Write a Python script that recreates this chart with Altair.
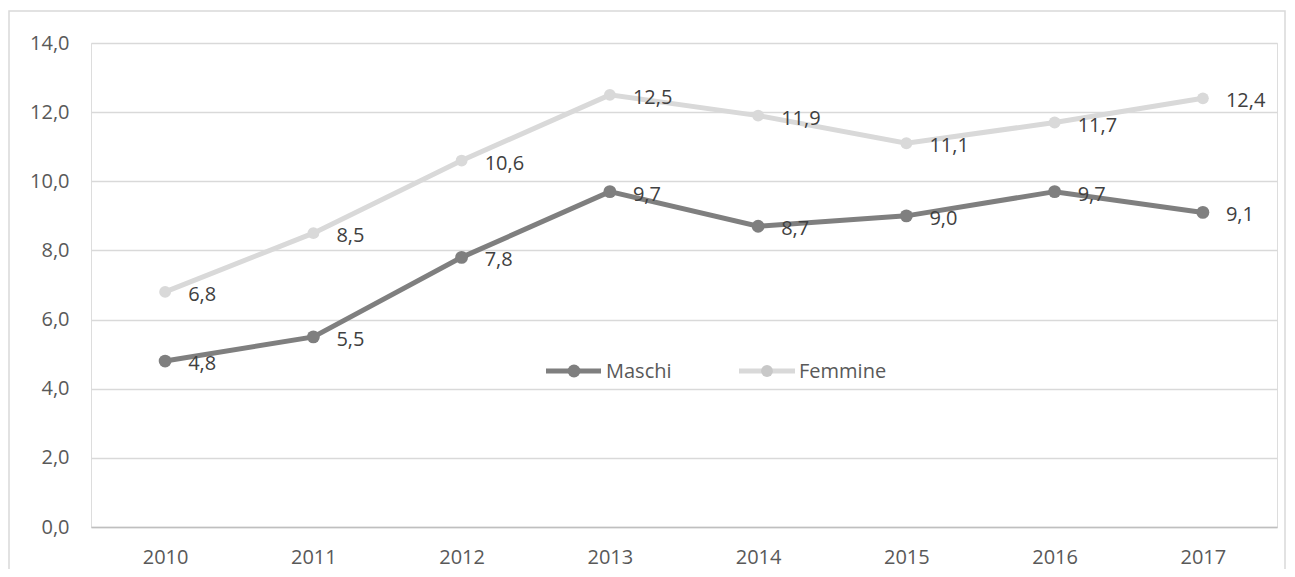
import altair as alt
import pandas as pd

years = ["2010", "2011", "2012", "2013", "2014", "2015", "2016", "2017"]
maschi = [4.8, 5.5, 7.8, 9.7, 8.7, 9.0, 9.7, 9.1]
femmine = [6.8, 8.5, 10.6, 12.5, 11.9, 11.1, 11.7, 12.4]
series_names = ["Maschi", "Femmine"]
y_ticks = [0, 2, 4, 6, 8, 10, 12, 14]

FONT = "Open Sans"
FS = 20
W, H = 1186, 484

df = pd.concat([
    pd.DataFrame({"anno": years, "valore": maschi, "serie": series_names[0]}),
    pd.DataFrame({"anno": years, "valore": femmine, "serie": series_names[1]}),
])
df["etichetta"] = df["valore"].map(lambda v: f"{v:.1f}".replace(".", ","))

x_enc = alt.X("anno:N", sort=years, title=None,
              scale=alt.Scale(paddingInner=0, paddingOuter=0.0),
              axis=alt.Axis(labelAngle=0, ticks=False, labelPadding=20,
                            labelFontSize=FS, labelColor="#595959", labelFont=FONT,
                            domainColor="#bfbfbf", domainWidth=1.5, grid=False))
y_enc = alt.Y("valore:Q", title=None,
              scale=alt.Scale(domain=[0, 14], nice=False),
              axis=alt.Axis(values=y_ticks, ticks=False, domain=False,
                            labelPadding=22, labelFontSize=FS, labelColor="#595959",
                            labelFont=FONT, gridColor="#d9d9d9", gridWidth=1.5,
                            labelExpr="replace(format(datum.value, '.1f'), '.', ',')"))

color = alt.Color("serie:N", legend=None,
                  scale=alt.Scale(domain=series_names, range=["#7f7f7f", "#d9d9d9"]))
pcolor = alt.Color("serie:N", legend=None,
                   scale=alt.Scale(domain=series_names, range=["#7f7f7f", "#c8c8c8"]))
psize = alt.Size("serie:N", legend=None,
                 scale=alt.Scale(domain=series_names, range=[165, 140]))

base = alt.Chart(df)
lines = base.mark_line(strokeWidth=5).encode(x=x_enc, y=y_enc, color=color,
                                               detail="serie:N")
points = base.mark_circle(opacity=1).encode(x=x_enc, y=y_enc, color=pcolor, size=psize)
labels = base.mark_text(align="left", baseline="middle", dx=23, dy=3,
                        fontSize=FS, font=FONT, color="#404040").encode(
    x=x_enc, y=y_enc, text="etichetta:N")

# Outer chart border
frame = alt.Chart(pd.DataFrame({"k": [0]})).mark_rect(
    fill=None, stroke="#d9d9d9", strokeWidth=1.5).encode(
    x=alt.value(-82), x2=alt.value(1194), y=alt.value(-32), y2=alt.value(560))

# Custom legend
ly = 328
leg_layers = []
for name, lcol, pcol, psz, x0, x1, cx, tx in [
    (series_names[0], "#7f7f7f", "#7f7f7f", 165, 455, 510, 483, 515),
    (series_names[1], "#d9d9d9", "#c8c8c8", 140, 648, 704, 676, 708),
]:
    ldf = alt.Chart(pd.DataFrame({"serie": [name]}))
    leg_layers.append(ldf.mark_rule(strokeWidth=5, color=lcol).encode(
        x=alt.value(x0), x2=alt.value(x1), y=alt.value(ly)))
    leg_layers.append(ldf.mark_circle(size=psz, opacity=1, color=pcol).encode(
        x=alt.value(cx), y=alt.value(ly)))
    leg_layers.append(ldf.mark_text(align="left", baseline="middle", fontSize=FS,
                                    font=FONT, color="#595959").encode(
        x=alt.value(tx), y=alt.value(ly + 1), text="serie:N"))

chart = alt.layer(frame, lines, points, labels, *leg_layers).properties(
    width=W, height=H,
    autosize=alt.AutoSizeParams(type="none"),
    padding={"left": 83, "top": 35, "right": 10, "bottom": 42},
).configure_view(stroke="#b0b0b0", strokeWidth=1.5).configure(background="white")

chart.save("out.html", embed_options={"renderer": "svg", "actions": False})
